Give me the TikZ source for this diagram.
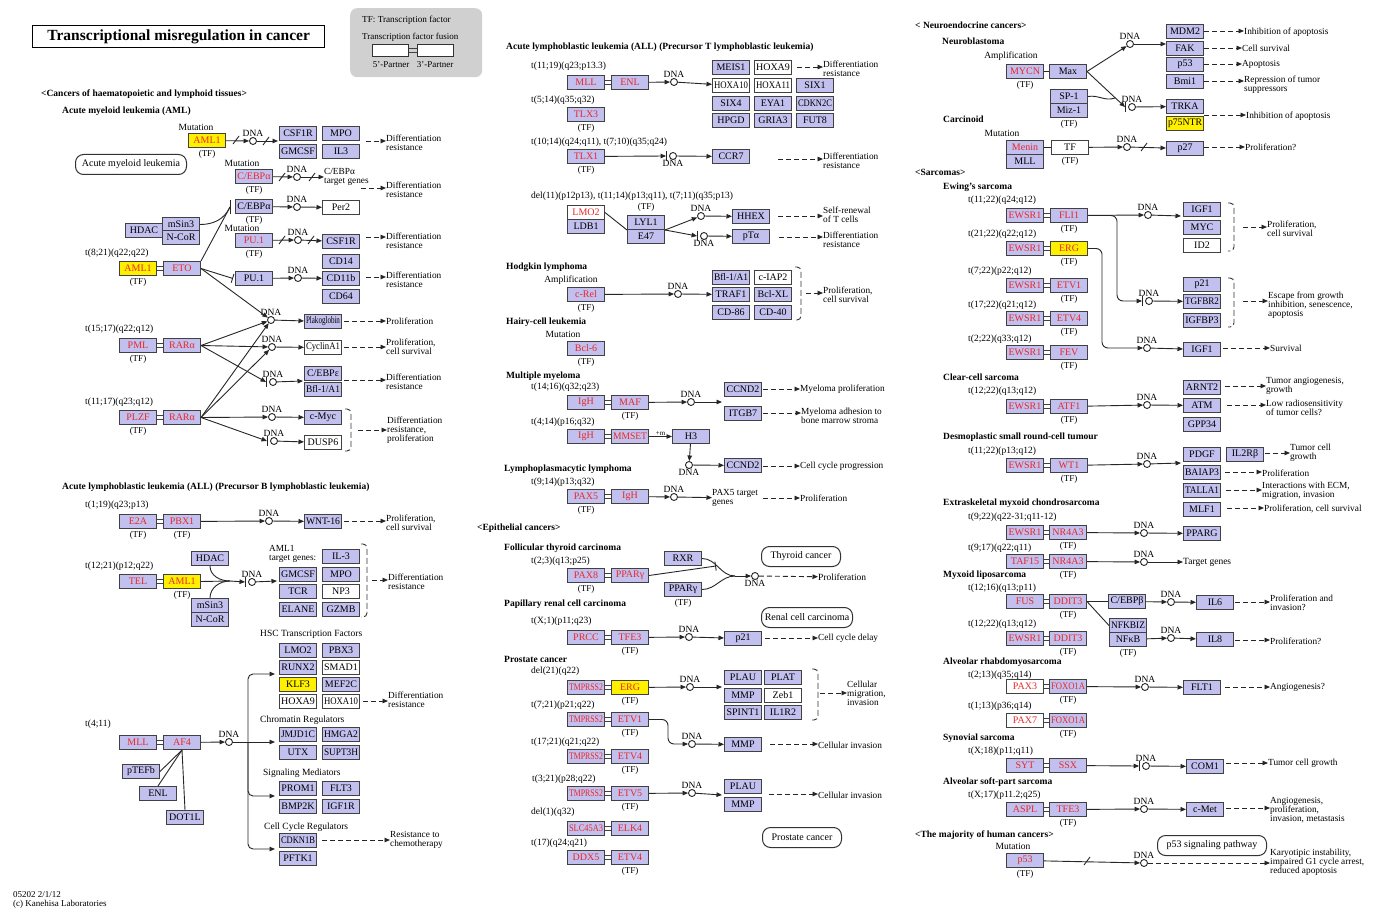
\documentclass[tikz,border=0pt]{standalone}
\usepackage{fontspec}
\setmainfont{Liberation Serif}
\usepackage{graphicx}
\usetikzlibrary{arrows.meta,calc}
\definecolor{lav}{RGB}{194,192,238}
\definecolor{kred}{RGB}{232,40,40}
\definecolor{kyel}{RGB}{255,240,0}
\definecolor{bord}{RGB}{65,65,65}
\definecolor{legg}{RGB}{208,208,208}
\newsavebox\gsbox
\newcommand\fitw[1]{\sbox\gsbox{#1}\ifdim\wd\gsbox>34pt\resizebox{34pt}{\height}{\usebox\gsbox}\else\usebox\gsbox\fi}
\tikzset{
 gene/.style={draw=bord,line width=1pt,fill=lav,minimum width=37pt,minimum height=14pt,inner sep=0pt,anchor=north west,font=\fontsize{10}{10}\selectfont},
 rg/.style={text=kred},
 yg/.style={fill=kyel,text=kred},
 wg/.style={fill=white},
 dnac/.style={circle,draw=black!85,line width=0.9pt,fill=white,minimum size=7pt,inner sep=0pt},
 dnal/.style={font=\fontsize{9.5}{9.5}\selectfont,inner sep=0pt},
 tfs/.style={font=\fontsize{9}{9}\selectfont,inner sep=0pt},
 lbl/.style={font=\fontsize{9.3}{9}\selectfont,inner sep=0pt,align=left,anchor=west},
 sml/.style={font=\fontsize{9.5}{9.5}\selectfont,inner sep=0pt},
 tl/.style={font=\fontsize{9.5}{9.5}\selectfont,inner sep=0pt,anchor=west},
 hdr/.style={font=\bfseries\fontsize{9.5}{9.5}\selectfont,inner sep=0pt,anchor=west},
 pwbox/.style={draw=black!80,line width=1pt,rounded corners=8pt,fill=white,inner sep=0pt,anchor=north west,font=\fontsize{10}{10}\selectfont},
 ln/.style={draw=black!85,line width=0.9pt},
 arr/.style={ln,-{Triangle[length=5.5pt,width=4.5pt]}},
 darr/.style={arr,dash pattern=on 5pt off 3pt},
 inh/.style={ln,-{Bar[width=9pt]}},
 fusl/.style={draw=bord,line width=0.9pt},
 sl/.style={draw=black!85,line width=0.9pt},
 barl/.style={draw=black!85,line width=1pt},
 brks/.style={draw=black!80,line width=0.9pt,dash pattern=on 6pt off 3pt,rounded corners=4pt},
}
\newcommand\gb[4][]{\node[gene,#1] (#2) at (#3) {\fitw{#4}};}
\newcommand\tfl[1]{\node[tfs,anchor=north] (#1tf) at ([yshift=-2pt]#1.south) {(TF)};}
\newcommand\dA[2]{\node[dnac] (#1) at (#2) {}; \node[dnal,anchor=south] (#1l) at ([yshift=0.5pt]#1.north) {DNA};}
\newcommand\dB[2]{\node[dnac] (#1) at (#2) {}; \node[dnal,anchor=north] (#1l) at ([yshift=-0.5pt]#1.south) {DNA};}
\newcommand\ibar[1]{\coordinate (#1b) at ([xshift=-3pt]#1.west); \draw[barl] ([yshift=5pt]#1b) -- ([yshift=-5pt]#1b);}
\newcommand\fuse[2]{\draw[fusl] ([yshift=2pt]#1.east) -- ([yshift=2pt]#2.west); \draw[fusl] ([yshift=-2pt]#1.east) -- ([yshift=-2pt]#2.west);}
\newcommand\outc[4]{\coordinate (#1s) at (#2); \node[lbl] (#1) at (#3) {#4}; \draw[darr] (#1s) -- (#1s -| #1.west);}
\newcommand\slsh[1]{\draw[sl,shift={(#1)}] (-3,4) -- (3,-4);}
\newcommand\brk[3]{\draw[brks] (#1,#2) -- ++(6,0) -- (#1+6,#3) -- (#1,#3);}
\begin{document}
\begin{tikzpicture}[x=1pt,y=-1pt]
\path[use as bounding box,fill=white] (0,0) rectangle (1378,909);
% ---------------- title and legend
\node[draw=black,line width=1.3pt,minimum width=292pt,minimum height=22pt,inner sep=0pt,anchor=north west,font=\bfseries\fontsize{15.5}{15.5}\selectfont] (title) at (32,25) {Transcriptional misregulation in cancer};
\node[fill=legg,rounded corners=7pt,minimum width=132pt,minimum height=69pt,anchor=north west] (legend) at (350,8) {};
\node[tl,font=\fontsize{9.2}{9}\selectfont] (legtf) at (362,20) {TF: Transcription factor};
\node[tl,font=\fontsize{9}{9}\selectfont] (legfu) at (362,37) {Transcription factor fusion};
\node[gene,wg,draw=black!80,minimum width=36pt,minimum height=12pt] (leg5) at (372,44) {};
\node[gene,wg,draw=black!80,minimum width=36pt,minimum height=12pt] (leg3) at (417,44) {};
\fuse{leg5}{leg3}
\node[sml,font=\fontsize{9}{9}\selectfont] (leg5l) at (391,65) {5'-Partner};
\node[sml,font=\fontsize{9}{9}\selectfont] (leg3l) at (435,65) {3'-Partner};
% ---------------- AML
\node[hdr] (s1) at (41,94) {<Cancers of haematopoietic and lymphoid tissues>};
\node[hdr] (aml) at (62,111) {Acute myeloid leukemia (AML)};
\node[sml] (m1) at (196,127) {Mutation};
\gb[yg]{aa}{188,133}{AML1} \tfl{aa}
\dA{d1}{253,141}
\gb{csf1r}{279,126}{CSF1R}
\gb{mpo}{322,126}{MPO}
\gb{gmcsf}{279,144}{GMCSF}
\gb{il3}{322,144}{IL3}
\coordinate (g1) at (278,141);
\draw[arr] (aa) -- (d1); \slsh{236,140}
\draw[arr] (d1) -- (g1); \slsh{266,141}
\outc{o1}{366,141}{386,143}{Differentiation\\resistance}
\node[pwbox,minimum width=111pt,minimum height=20pt] (amlp) at (75,154) {Acute myeloid leukemia};
\node[sml] (m2) at (242,163) {Mutation};
\gb[rg]{ceba}{235,169}{C/EBPα} \tfl{ceba}
\dA{d2}{297,177}
\node[lbl] (tg1) at (324,177) {C/EBPα\\target genes};
\draw[arr] (ceba) -- (d2); \slsh{282,177}
\draw[arr] (d2) -- (tg1); \slsh{312,177}
\outc{o2}{361,188}{386,190}{Differentiation\\resistance}
\gb{cebb}{235,199}{C/EBPα} \tfl{cebb}
\dA{d3}{297,207}
\gb[wg]{per2}{322,200}{Per2}
\draw[arr] (cebb) -- (d3);
\draw[arr] (d3) -- (per2);
\gb{hdaca}{125,223}{HDAC}
\gb{msina}{162,217}{mSin3}
\gb{ncora}{162,230}{N-CoR}
\coordinate (cb) at (230,207);
\node[sml] (m3) at (242,228) {Mutation};
\gb[rg]{pua}{235,233}{PU.1} \tfl{pua}
\dA{d4}{298,240}
\gb{csfb}{322,234}{CSF1R}
\draw[arr] (pua) -- (d4); \slsh{282,240}
\draw[arr] (d4) -- (csfb); \slsh{311,240}
\outc{o3}{366,237}{386,241}{Differentiation\\resistance}
\node[tl] (t821) at (85,253) {t(8;21)(q22;q22)};
\gb[yg]{ab}{119,261}{AML1} \tfl{ab}
\gb[rg]{eto}{163,261}{ETO}
\fuse{ab}{eto}
\gb{pub}{235,271}{PU.1}
\dA{d5}{298,278}
\gb{cd14}{322,254}{CD14}
\gb{cd11b}{322,271}{CD11b}
\gb{cd64}{322,289}{CD64}
\draw[inh] (eto.east) -- ([xshift=-2pt]pub.west);
\draw[arr] (pub) -- (d5);
\draw[arr] (d5) -- (cd11b);
\outc{o4}{366,277}{386,280}{Differentiation\\resistance}
\draw[ln] (eto.north east) -- (cb);
\draw[ln] (msina.east) to[out=0,in=-115] (cb);
\draw[barl] ([yshift=7pt]cb) -- ([yshift=-7pt]cb);
\dA{d6}{271,320}
\gb{plako}{304,314}{Plakoglobin}
\outc{o5}{344,321}{386,321}{Proliferation}
\node[tl] (t1517) at (85,329) {t(15;17)(q22;q12)};
\gb[rg]{pml}{119,338}{PML} \tfl{pml}
\gb[rg]{raraa}{163,338}{RARα}
\fuse{pml}{raraa}
\dA{d7}{272,347}
\gb[wg]{cyca}{304,340}{CyclinA1}
\outc{o6}{344,347}{386,347}{Proliferation,\\cell survival}
\dA{d8}{273,382} \ibar{d8}
\gb{cebpe}{304,366}{C/EBPε}
\gb{bfla}{304,382}{Bfl-1/A1}
\coordinate (g8) at (303,381);
\outc{o7}{344,380}{386,382}{Differentiation\\resistance}
\node[tl] (t1117) at (85,402) {t(11;17)(q23;q12)};
\gb[rg]{plzf}{119,410}{PLZF} \tfl{plzf}
\gb[rg]{rarab}{163,410}{RARα}
\fuse{plzf}{rarab}
\dA{d9}{272,417}
\gb{cmyc}{304,410}{c-Myc}
\dA{d10}{274,441} \ibar{d10}
\gb[wg]{dusp6}{304,435}{DUSP6}
\brk{345}{409}{451}
\outc{o8}{358,430}{387,430}{Differentiation\\resistance,\\proliferation}
\draw[arr] (eto.east) -- (d6);
\draw[arr] (raraa.east) -- (d6);
\draw[arr] (raraa.east) -- (d7);
\draw[arr] (raraa.east) -- (d8b);
\draw[arr] (rarab.east) -- (d6);
\draw[arr] (rarab.east) -- (d7);
\draw[arr] (rarab.east) -- (d9);
\draw[arr] (rarab.east) -- (d10b);
\draw[arr] (d6) -- (plako);
\draw[arr] (d7) -- (cyca);
\draw[arr] (d8) -- (g8);
\draw[arr] (d9) -- (cmyc);
\draw[arr] (d10) -- (dusp6);
% ---------------- ALL B
\node[hdr] (allb) at (62,487) {Acute lymphoblastic leukemia (ALL) (Precursor B lymphoblastic leukemia)};
\node[tl] (t119) at (85,505) {t(1;19)(q23;p13)};
\gb[rg]{e2a}{119,514}{E2A} \tfl{e2a}
\gb[rg]{pbxa}{163,514}{PBX1} \tfl{pbxa}
\fuse{e2a}{pbxa}
\dA{d11}{269,521}
\gb{wnt}{304,514}{WNT-16}
\draw[arr] (pbxa) -- (d11);
\draw[arr] (d11) -- (wnt);
\outc{o9}{344,521}{386,523}{Proliferation,\\cell survival}
\node[tl] (t1221) at (85,566) {t(12;21)(p12;q22)};
\gb[rg]{tel}{119,574}{TEL}
\gb[yg]{ac}{163,574}{AML1} \tfl{ac}
\fuse{tel}{ac}
\gb{hdacb}{191,551}{HDAC}
\gb{msinb}{191,598}{mSin3}
\gb{ncorb}{191,612}{N-CoR}
\coordinate (jb) at (230,581);
\dA{d12}{252,582} \ibar{d12}
\node[lbl] (atg) at (269,554) {AML1\\target genes:};
\gb{ilb}{322,549}{IL-3}
\gb{gmcsfb}{279,567}{GMCSF}
\gb{mpob}{322,567}{MPO}
\gb{tcr}{279,584}{TCR}
\gb[wg]{np3}{322,584}{NP3}
\gb{elane}{279,602}{ELANE}
\gb{gzmb}{322,602}{GZMB}
\coordinate (g12) at (277,581);
\brk{361}{544}{617}
\outc{o10}{372,580}{388,582}{Differentiation\\resistance}
\draw[ln] (ac.east) -- (jb);
\draw[ln] (hdacb.south) to[out=-90,in=180] (jb);
\draw[ln] (msinb.north) to[out=90,in=180] (jb);
\draw[arr] (jb) -- (d12b);
\draw[arr] (d12) -- (g12);
\node[tl] (hsc) at (260,634) {HSC Transcription Factors};
\gb{lmoa}{279,643}{LMO2}
\gb{pbxc}{322,643}{PBX3}
\gb{runx}{279,660}{RUNX2}
\gb[wg]{smad}{322,660}{SMAD1}
\gb[fill=kyel]{klf}{279,677}{KLF3}
\gb{mef}{322,677}{MEF2C}
\gb[wg]{hoxnine}{279,694}{HOXA9}
\gb[wg]{hoxten}{322,694}{HOXA10}
\outc{o11}{363,701}{388,700}{Differentiation\\resistance}
\node[tl] (chr) at (260,720) {Chromatin Regulators};
\gb{jmjd}{279,727}{JMJD1C}
\gb{hmga}{322,727}{HMGA2}
\gb{utx}{279,745}{UTX}
\gb{supt}{322,745}{SUPT3H}
\node[tl] (sigm) at (263,773) {Signaling Mediators};
\gb{prom}{279,781}{PROM1}
\gb{flt3}{322,781}{FLT3}
\gb{bmp}{279,799}{BMP2K}
\gb{igfr}{322,799}{IGF1R}
\node[tl] (ccreg) at (264,827) {Cell Cycle Regulators};
\gb{cdkn}{279,833}{CDKN1B}
\gb{pftk}{279,851}{PFTK1}
\outc{o12}{322,840}{390,840}{Resistance to\\chemotherapy}
\node[tl] (t411) at (85,724) {t(4;11)};
\gb[rg]{mlla}{119,735}{MLL}
\gb[rg]{af4}{163,735}{AF4}
\fuse{mlla}{af4}
\dA{d13}{229,742}
\gb{ptefb}{122,764}{pTEFb}
\gb{enla}{139,786}{ENL}
\gb{dot}{166,810}{DOT1L}
\coordinate (jc) at (248,742);
\coordinate (hscin) at (275,674);
\coordinate (chrin) at (275,742);
\coordinate (sigin) at (275,796);
\coordinate (ccin) at (275,849);
\draw[arr] (af4) -- (d13);
\draw[arr] (d13) -- (chrin);
\draw[arr,rounded corners=5pt] (jc) |- (hscin);
\draw[arr,rounded corners=5pt] (jc) |- (sigin);
\draw[arr,rounded corners=5pt] (jc) |- (ccin);
\draw[ln] (af4.south) -- (ptefb.east);
\draw[ln] (af4.south) -- (enla.north);
\draw[ln] (af4.south) -- (dot.north);
\node[tl,font=\fontsize{9}{9}\selectfont] (foota) at (13,895) {05202 2/1/12};
\node[tl,font=\fontsize{9}{9}\selectfont] (footb) at (13,904) {(c) Kanehisa Laboratories};
% ---------------- ALL T
\node[hdr] (allt) at (506,47) {Acute lymphoblastic leukemia (ALL) (Precursor T lymphoblastic leukemia)};
\node[tl] (t1119) at (531,66) {t(11;19)(q23;p13.3)};
\gb[rg]{mllb}{567,75}{MLL}
\gb[rg]{enlb}{611,75}{ENL}
\fuse{mllb}{enlb}
\dA{d14}{674,82}
\gb{meis}{712,60}{MEIS1}
\gb[wg]{hoxninet}{754,60}{HOXA9}
\gb[wg]{hoxtent}{712,78}{HOXA10}
\gb[wg]{hoxeleven}{754,78}{HOXA11}
\gb{sixa}{796,78}{SIX1}
\gb{sixb}{712,96}{SIX4}
\gb{eya}{754,96}{EYA1}
\gb{cdknc}{796,96}{CDKN2C}
\gb{hpgd}{712,113}{HPGD}
\gb{gria}{754,113}{GRIA3}
\gb{fut}{796,113}{FUT8}
\draw[arr] (enlb) -- (d14);
\draw[arr] (d14) -- (hoxtent);
\outc{o13}{797,67}{823,69}{Differentiation\\resistance}
\node[tl] (t514) at (531,100) {t(5;14)(q35;q32)};
\gb[rg]{tlxc}{567,107}{TLX3} \tfl{tlxc}
\node[tl] (t1014) at (531,142) {t(10;14)(q24;q11), t(7;10)(q35;q24)};
\gb[rg]{tlxa}{567,149}{TLX1} \tfl{tlxa}
\dB{d15}{673,156} \ibar{d15}
\gb{ccr}{712,149}{CCR7}
\draw[arr] (tlxa) -- (d15b);
\draw[arr] (d15) -- (ccr);
\outc{o14}{778,159}{823,161}{Differentiation\\resistance}
\node[tl] (tdelb) at (531,196) {del(11)(p12p13), t(11;14)(p13;q11), t(7;11)(q35;p13)};
\gb[wg,rg]{lmob}{567,205}{LMO2}
\gb{ldb}{567,219}{LDB1}
\gb{lyl}{627,215}{LYL1}
\gb{efs}{627,229}{E47}
\node[tfs] (lyltf) at (646,207) {(TF)};
\dA{d16}{701,216}
\dB{d17}{704,236} \ibar{d17}
\gb{hhex}{732,209}{HHEX}
\gb{pta}{732,229}{pTα}
\draw[ln] (lmob.east) -- (lyl.south west);
\draw[arr] (lyl.south east) -- (d16);
\draw[arr] (lyl.south east) -- (d17b);
\draw[arr] (d16) -- (hhex);
\draw[arr] (d17) -- (pta);
\outc{o15}{778,216}{823,215}{Self-renewal\\of T cells}
\outc{o16}{779,237}{823,240}{Differentiation\\resistance}
% ---------------- Hodgkin etc
\node[hdr] (hodg) at (506,267) {Hodgkin lymphoma};
\node[sml] (ampa) at (571,280) {Amplification};
\gb[rg]{crel}{567,287}{c-Rel} \tfl{crel}
\dA{d18}{678,294}
\gb{bflb}{712,270}{Bfl-1/A1}
\gb[wg]{ciap}{754,270}{c-IAP2}
\gb{traf}{712,287}{TRAF1}
\gb{bclxl}{754,287}{Bcl-XL}
\gb{cdes}{712,305}{CD-86}
\gb{cdfo}{754,305}{CD-40}
\draw[arr] (crel) -- (d18);
\draw[arr] (d18) -- (traf);
\brk{795}{267}{320}
\outc{o17}{806,293}{823,295}{Proliferation,\\cell survival}
\node[hdr] (hairy) at (506,322) {Hairy-cell leukemia};
\node[sml] (mutd) at (563,334) {Mutation};
\gb[rg]{bcl}{567,341}{Bcl-6} \tfl{bcl}
\node[hdr] (mm) at (506,376) {Multiple myeloma};
\node[tl] (t1416) at (531,387) {t(14;16)(q32;q23)};
\gb[rg]{igha}{567,395}{IgH}
\gb[rg]{maf}{611,395}{MAF} \tfl{maf}
\fuse{igha}{maf}
\dA{d19}{691,402}
\gb{ccnda}{724,382}{CCND2}
\gb{itgb}{724,406}{ITGB7}
\coordinate (g19) at (722,402);
\draw[arr] (maf) -- (d19);
\draw[arr] (d19) -- (g19);
\outc{o18}{763,389}{800,389}{Myeloma proliferation}
\outc{o19}{763,413}{801,416}{Myeloma adhesion to\\bone marrow stroma}
\node[tl] (t414) at (531,422) {t(4;14)(p16;q32)};
\gb[rg]{ighb}{567,429}{IgH}
\gb[rg]{mmset}{611,429}{MMSET}
\fuse{ighb}{mmset}
\gb{hthree}{672,429}{H3}
\draw[arr] (mmset) -- (hthree) node[midway,above=1pt,font=\fontsize{7}{7}\selectfont,inner sep=0pt] (me) {+m};
\dB{d20}{689,465}
\gb{ccndb}{724,458}{CCND2}
\draw[arr] (hthree) -- (d20);
\draw[arr] (d20) -- (ccndb);
\outc{o20}{763,466}{800,466}{Cell cycle progression}
\node[hdr] (lpl) at (504,469) {Lymphoplasmacytic lymphoma};
\node[tl] (t914) at (531,482) {t(9;14)(p13;q32)};
\gb[rg]{pax5}{567,489}{PAX5} \tfl{pax5}
\gb[rg]{ighc}{611,489}{IgH}
\fuse{pax5}{ighc}
\dA{d21}{674,497}
\node[lbl] (pfivetg) at (712,498) {PAX5 target\\genes};
\draw[arr] (ighc) -- (d21);
\draw[arr] (d21) -- (pfivetg);
\outc{o21}{763,498}{800,498}{Proliferation}
% ---------------- Epithelial
\node[hdr] (epi) at (477,528) {<Epithelial cancers>};
\node[hdr] (ftc) at (504,548) {Follicular thyroid carcinoma};
\node[tl] (t23) at (531,561) {t(2;3)(q13;p25)};
\gb[rg]{pax8}{567,568}{PAX8} \tfl{pax8}
\gb[rg]{ppga}{611,568}{PPARγ}
\fuse{pax8}{ppga}
\gb{rxr}{664,551}{RXR}
\gb{ppgb}{664,582}{PPARγ} \tfl{ppgb}
\coordinate (jt) at (735,576);
\coordinate (thin) at (716,566);
\dB{d22}{755,576}
\draw[ln] (rxr.east) to[out=0,in=180] (jt);
\draw[ln] (ppgb.east) to[out=0,in=180] (jt);
\draw[inh] (ppga.east) -- (thin);
\draw[arr] (jt) -- (d22);
\node[tl] (prolb) at (818,577) {Proliferation};
\draw[darr] (d22) -- (prolb);
\node[pwbox,minimum width=79pt,minimum height=20pt] (thyc) at (761,546) {Thyroid cancer};
\node[hdr] (prch) at (504,604) {Papillary renal cell carcinoma};
\node[tl] (txa) at (531,621) {t(X;1)(p11;q23)};
\gb[rg]{prcc}{567,630}{PRCC}
\gb[rg]{tfea}{611,630}{TFE3} \tfl{tfea}
\fuse{prcc}{tfea}
\dA{d23}{689,637}
\gb{ptwa}{724,631}{p21}
\draw[arr] (tfea) -- (d23);
\draw[arr] (d23) -- (ptwa);
\outc{o22}{765,638}{818,638}{Cell cycle delay}
\node[pwbox,minimum width=91pt,minimum height=20pt] (rcc) at (761,607) {Renal cell carcinoma};
\node[hdr] (prh) at (504,659) {Prostate cancer};
\node[tl] (tdelc) at (531,671) {del(21)(q22)};
\gb[rg]{tmpa}{567,680}{TMPRSS2}
\gb[yg]{erga}{611,680}{ERG} \tfl{erga}
\fuse{tmpa}{erga}
\dA{d24}{690,687}
\gb{plaua}{724,670}{PLAU}
\gb{plat}{764,670}{PLAT}
\gb{mmpa}{724,688}{MMP}
\gb[wg]{zeb}{764,688}{Zeb1}
\gb{spint}{724,705}{SPINT1}
\gb{ilr}{764,705}{IL1R2}
\coordinate (g24) at (722,687);
\draw[arr] (erga) -- (d24);
\draw[arr] (d24) -- (g24);
\brk{812}{669}{720}
\outc{o23}{820,693}{847,693}{Cellular\\migration,\\invasion}
\node[tl] (t721) at (531,705) {t(7;21)(p21;q22)};
\gb[rg]{tmpb}{567,712}{TMPRSS2}
\gb[rg]{etva}{611,712}{ETV1} \tfl{etva}
\fuse{tmpb}{etva}
\dA{d25}{692,744}
\coordinate (ec) at (668,744);
\gb{mmpb}{724,737}{MMP}
\draw[arr,rounded corners=6pt] (etva.east) -| (ec) -- (d25);
\draw[arr] (d25) -- (mmpb);
\outc{o24}{770,744}{818,745}{Cellular invasion}
\node[tl] (t1721) at (531,742) {t(17;21)(q21;q22)};
\gb[rg]{tmpc}{567,749}{TMPRSS2}
\gb[rg]{etvb}{611,749}{ETV4} \tfl{etvb}
\fuse{tmpc}{etvb}
\node[tl] (t321) at (532,779) {t(3;21)(p28;q22)};
\gb[rg]{tmpd}{567,786}{TMPRSS2}
\gb[rg]{etvc}{611,786}{ETV5} \tfl{etvc}
\fuse{tmpd}{etvc}
\dA{d26}{692,793}
\gb{plaub}{724,779}{PLAU}
\gb{mmpc}{724,797}{MMP}
\coordinate (g26) at (722,795);
\draw[arr] (etvc) -- (d26);
\draw[arr] (d26) -- (g26);
\outc{o25}{769,794}{818,795}{Cellular invasion}
\node[tl] (tdeld) at (531,812) {del(1)(q32)};
\gb[rg]{slc}{567,821}{SLC45A3}
\gb[rg]{elk}{611,821}{ELK4}
\fuse{slc}{elk}
\node[tl] (tseventeen) at (531,843) {t(17)(q24;q21)};
\gb[rg]{ddx}{567,850}{DDX5}
\gb[rg]{etvd}{611,850}{ETV4} \tfl{etvd}
\fuse{ddx}{etvd}
\node[pwbox,minimum width=79pt,minimum height=20pt] (prc) at (762,827) {Prostate cancer};
% ---------------- Neuroendocrine
\node[hdr] (neh) at (915,25) {< Neuroendocrine cancers>};
\node[hdr] (nbh) at (942,41) {Neuroblastoma};
\node[sml] (ampb) at (1011,56) {Amplification};
\gb[rg]{mycn}{1006,64}{MYCN} \tfl{mycn}
\gb{maxp}{1049,64}{Max}
\draw[ln] (mycn) -- (maxp);
\gb{spa}{1050,89}{SP-1}
\gb{miz}{1050,103}{Miz-1} \tfl{miz}
\dA{d27}{1130,44}
\dA{d28}{1132,107} \ibar{d28}
\gb{mdm}{1166,24}{MDM2}
\gb{fak}{1166,41}{FAK}
\gb{pfa}{1166,57}{p53}
\gb{bmi}{1166,74}{Bmi1}
\gb{trka}{1166,99}{TRKA}
\gb[fill=kyel]{pntr}{1166,116}{p75NTR}
\coordinate (jn) at (1115,98);
\draw[arr] (maxp.east) -- (d27);
\draw[arr] (d27) -- (d27 -| fak.west);
\draw[arr] (maxp.east) -- (d28b);
\draw[ln] (spa.east) to[out=10,in=200] (jn);
\draw[arr] (d28) -- (trka);
\outc{o26}{1204,31}{1244,32}{Inhibition of apoptosis}
\outc{o27}{1204,48}{1242,48}{Cell survival}
\outc{o28}{1204,64}{1242,64}{Apoptosis}
\outc{o29}{1204,81}{1244,85}{Repression of tumor\\suppressors}
\outc{o30}{1204,115}{1246,116}{Inhibition of apoptosis}
\node[hdr] (carc) at (943,119) {Carcinoid};
\node[sml] (mute) at (1002,133) {Mutation};
\gb[rg]{menin}{1006,140}{Menin}
\gb{mllc}{1006,154}{MLL}
\gb[wg]{tfb}{1051,140}{TF} \tfl{tfb}
\draw[ln] (menin) -- (tfb);
\dA{d29}{1127,147}
\gb{pts}{1166,141}{p27}
\draw[arr] (tfb) -- (d29);
\draw[arr] (d29) -- (pts); \slsh{1144,147}
\outc{o31}{1204,147}{1245,147}{Proliferation?}
% ---------------- Sarcomas
\node[hdr] (sarc) at (915,172) {<Sarcomas>};
\node[hdr] (ewh) at (943,187) {Ewing's sarcoma};
\node[tl] (tewa) at (968,200) {t(11;22)(q24;q12)};
\gb[rg]{ewsa}{1006,208}{EWSR1}
\gb[rg]{fli}{1050,208}{FLI1} \tfl{fli}
\fuse{ewsa}{fli}
\dA{d30}{1148,215}
\gb{igfa}{1183,202}{IGF1}
\gb{myc}{1183,220}{MYC}
\gb[wg]{idt}{1183,238}{ID2}
\coordinate (g30) at (1181,216);
\draw[arr] (fli) -- (d30);
\draw[arr] (d30) -- (g30);
\brk{1228}{203}{251}
\outc{o32}{1243,227}{1267,229}{Proliferation,\\cell survival}
\node[tl] (tewb) at (968,234) {t(21;22)(q22;q12)};
\gb[rg]{ewsb}{1006,241}{EWSR1}
\gb[yg]{ergb}{1050,241}{ERG} \tfl{ergb}
\fuse{ewsb}{ergb}
\node[tl] (tewc) at (968,271) {t(7;22)(p22;q12)};
\gb[rg]{ewsc}{1006,278}{EWSR1}
\gb[rg]{etve}{1050,278}{ETV1} \tfl{etve}
\fuse{ewsc}{etve}
\node[tl] (tewd) at (968,305) {t(17;22)(q21;q12)};
\gb[rg]{ewsd}{1006,311}{EWSR1}
\gb[rg]{etvf}{1050,311}{ETV4} \tfl{etvf}
\fuse{ewsd}{etvf}
\node[tl] (tewe) at (968,339) {t(2;22)(q33;q12)};
\gb[rg]{ewse}{1006,345}{EWSR1}
\gb[rg]{fev}{1050,345}{FEV} \tfl{fev}
\fuse{ewse}{fev}
\dA{d31}{1149,301} \ibar{d31}
\dA{d32}{1147,348}
\gb{ptwb}{1183,277}{p21}
\gb{tgfb}{1183,294}{TGFBR2}
\gb{igfbp}{1183,313}{IGFBP3}
\gb{igfb}{1183,342}{IGF1}
\coordinate (fd) at (1117,301);
\coordinate (ed) at (1102,348);
\draw[arr,rounded corners=6pt] (fli.east) -| (fd) -- (d31b);
\draw[arr,rounded corners=6pt] (ergb.east) -| (ed) -- (d32);
\draw[arr] (d31) -- (tgfb);
\draw[arr] (d32) -- (igfb);
\brk{1228}{278}{327}
\outc{o33}{1243,301}{1268,305}{Escape from growth\\inhibition, senescence,\\apoptosis}
\outc{o34}{1223,348}{1270,348}{Survival}
\node[hdr] (ccs) at (943,377) {Clear-cell sarcoma};
\node[tl] (tewf) at (968,391) {t(12;22)(q13;q12)};
\gb[rg]{ewsf}{1006,399}{EWSR1}
\gb[rg]{atf}{1050,399}{ATF1} \tfl{atf}
\fuse{ewsf}{atf}
\dA{d33}{1147,405}
\gb{arnt}{1183,380}{ARNT2}
\gb{atm}{1183,398}{ATM}
\gb{gpp}{1183,417}{GPP34}
\draw[arr] (atf) -- (d33);
\draw[arr] (d33) -- (atm);
\outc{o35}{1225,386}{1266,386}{Tumor angiogenesis,\\growth}
\outc{o36}{1227,405}{1266,408}{Low radiosensitivity\\of tumor cells?}
\node[hdr] (dsr) at (943,437) {Desmoplastic small round-cell tumour};
\node[tl] (tewg) at (968,451) {t(11;22)(p13;q12)};
\gb[rg]{ewsg}{1006,458}{EWSR1}
\gb[rg]{wt}{1050,458}{WT1} \tfl{wt}
\fuse{ewsg}{wt}
\dA{d34}{1147,464}
\gb{pdgf}{1183,447}{PDGF}
\gb{iltrb}{1226,447}{IL2Rβ}
\gb{baiap}{1183,465}{BAIAP3}
\gb{talla}{1183,483}{TALLA1}
\gb{mlf}{1183,502}{MLF1}
\coordinate (g34) at (1181,463);
\draw[arr] (wt) -- (d34);
\draw[arr] (d34) -- (g34);
\outc{o37}{1265,453}{1290,453}{Tumor cell\\growth}
\outc{o38}{1225,472}{1262,473}{Proliferation}
\outc{o39}{1226,490}{1262,491}{Interactions with ECM,\\migration, invasion}
\outc{o40}{1227,508}{1264,509}{Proliferation, cell survival}
\node[hdr] (emc) at (943,503) {Extraskeletal myxoid chondrosarcoma};
\node[tl] (tewh) at (968,517) {t(9;22)(q22-31;q11-12)};
\gb[rg]{ewsh}{1006,525}{EWSR1}
\gb[rg]{nra}{1049,525}{NR4A3} \tfl{nra}
\fuse{ewsh}{nra}
\dA{d35}{1144,533}
\gb{ppgc}{1183,526}{PPARG}
\draw[arr] (nra) -- (d35);
\draw[arr] (d35) -- (ppgc);
\node[tl] (tnine) at (968,548) {t(9;17)(q22;q11)};
\gb[rg]{taf}{1006,554}{TAF15}
\gb[rg]{nrb}{1049,554}{NR4A3} \tfl{nrb}
\fuse{taf}{nrb}
\dA{d36}{1144,562}
\node[tl] (tgen) at (1183,562) {Target genes};
\draw[arr] (nrb) -- (d36);
\draw[arr] (d36) -- (tgen);
\node[hdr] (mls) at (943,575) {Myxoid liposarcoma};
\node[tl] (ttwelve) at (968,588) {t(12;16)(q13;p11)};
\gb[rg]{fusg}{1006,594}{FUS}
\gb[rg]{ddita}{1049,594}{DDIT3} \tfl{ddita}
\fuse{fusg}{ddita}
\gb{cebpb}{1108,594}{C/EBPβ}
\draw[ln] (ddita) -- (cebpb);
\dA{d37}{1171,602}
\gb{ilsix}{1196,595}{IL6}
\draw[arr] (cebpb) -- (d37);
\draw[arr] (d37) -- (ilsix);
\outc{o41}{1235,602}{1270,603}{Proliferation and\\invasion?}
\node[tl] (tewi) at (968,624) {t(12;22)(q13;q12)};
\gb[rg]{ewsi}{1006,631}{EWSR1}
\gb[rg]{dditb}{1049,631}{DDIT3} \tfl{dditb}
\fuse{ewsi}{dditb}
\gb{nfkbiz}{1109,618}{NFKBIZ}
\gb{nfkb}{1109,632}{NFκB} \tfl{nfkb}
\draw[ln] (ddita.east) -- (nfkbiz.west);
\dA{d38}{1171,638}
\gb{ileight}{1196,632}{IL8}
\draw[arr] (nfkb) -- (d38);
\draw[arr] (d38) -- (ileight);
\outc{o42}{1235,640}{1270,641}{Proliferation?}
\node[hdr] (arms) at (943,662) {Alveolar rhabdomyosarcoma};
\node[tl] (ttwo) at (968,675) {t(2;13)(q35;q14)};
\gb[wg,rg]{paxt}{1006,679}{PAX3}
\gb[rg]{foxa}{1049,679}{FOXO1A} \tfl{foxa}
\fuse{paxt}{foxa}
\dA{d39}{1145,687}
\gb{fltone}{1183,680}{FLT1}
\draw[arr] (foxa) -- (d39);
\draw[arr] (d39) -- (fltone);
\outc{o43}{1225,687}{1270,687}{Angiogenesis?}
\node[tl] (tone) at (968,706) {t(1;13)(p36;q14)};
\gb[wg,rg]{paxs}{1006,713}{PAX7}
\gb[rg]{foxb}{1049,713}{FOXO1A} \tfl{foxb}
\fuse{paxs}{foxb}
\node[hdr] (syn) at (943,738) {Synovial sarcoma};
\node[tl] (txb) at (968,751) {t(X;18)(p11;q11)};
\gb[rg]{syt}{1006,758}{SYT}
\gb[rg]{ssx}{1049,758}{SSX}
\fuse{syt}{ssx}
\dA{d40}{1146,766} \ibar{d40}
\gb{com}{1186,759}{COM1}
\draw[arr] (ssx) -- (d40b);
\draw[arr] (d40) -- (com);
\outc{o44}{1226,763}{1268,763}{Tumor cell growth}
\node[hdr] (asps) at (943,782) {Alveolar soft-part sarcoma};
\node[tl] (txc) at (968,795) {t(X;17)(p11.2;q25)};
\gb[rg]{aspl}{1006,802}{ASPL}
\gb[rg]{tfeb}{1049,802}{TFE3} \tfl{tfeb}
\fuse{aspl}{tfeb}
\dA{d41}{1144,809}
\gb{cmet}{1186,802}{c-Met}
\draw[arr] (tfeb) -- (d41);
\draw[arr] (d41) -- (cmet);
\outc{o45}{1226,808}{1270,810}{Angiogenesis,\\proliferation,\\invasion, metastasis}
\node[hdr] (maj) at (915,835) {<The majority of human cancers>};
\node[sml] (mutf) at (1013,846) {Mutation};
\gb[rg]{pfb}{1006,853}{p53} \tfl{pfb}
\dA{d42}{1144,863}
\draw[arr] (pfb) -- (d42); \slsh{1087,861}
\node[lbl] (kary) at (1270,862) {Karyotipic instability,\\impaired G1 cycle arrest,\\reduced apoptosis};
\draw[darr] (d42) -- (d42 -| kary.west);
\node[pwbox,minimum width=109pt,minimum height=20pt] (pfsp) at (1157,835) {p53 signaling pathway};
\end{tikzpicture}
\end{document}
